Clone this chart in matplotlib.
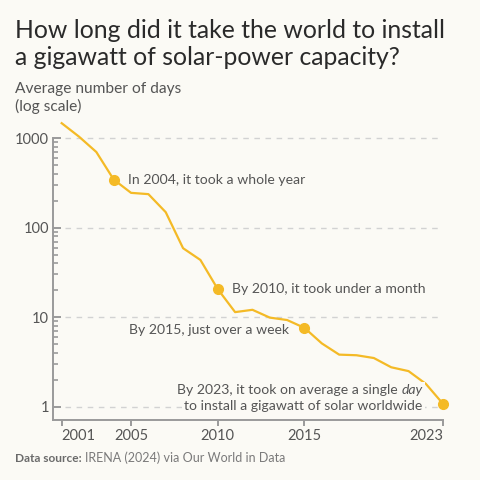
import numpy as np
import matplotlib
matplotlib.use('Agg')
import matplotlib.pyplot as plt

plt.rcParams['font.family'] = ['Lato', 'DejaVu Sans']

# ------------------------------
# Data
# ------------------------------
years = [2001, 2002, 2003, 2004, 2005, 2006, 2007, 2008, 2009, 2010, 2011, 2012,
         2013, 2014, 2015, 2016, 2017, 2018, 2019, 2020, 2021, 2022, 2023]
days = [1470, 1040, 700, 345, 245, 237, 149, 59, 43.6, 20.6, 11.4, 12.1,
        9.9, 9.3, 7.6, 5.1, 3.82, 3.76, 3.5, 2.76, 2.5, 1.8, 1.07]

highlight_years = [2004, 2010, 2015, 2023]
xtick_years = [2001, 2005, 2010, 2015, 2023]
ytick_vals = [1, 10, 100, 1000]

bg = '#fbfaf5'
gold = '#f4ba26'
txt = '#555555'
axis_col = '#9a9a9a'

fig = plt.figure(figsize=(4.8, 4.8), dpi=100, facecolor=bg)
ax = fig.add_axes([0.1104, 0.125, 0.813, 0.620], facecolor=bg)

ax.set_yscale('log')
ax.set_xlim(2000.5, 2023)
ax.set_ylim(0.711, 1500)

# dashed gridlines, starting just right of the axis
for v in ytick_vals:
    ax.axhline(v, xmin=0.03, xmax=1.0, color='#d2d2d2', lw=1.0,
               dashes=(4, 4), zorder=1)

ax.plot(years, days, color=gold, lw=1.6, zorder=3, clip_on=False)
hl_days = [days[years.index(y)] for y in highlight_years]
ax.plot(highlight_years, hl_days, 'o', color=gold, ms=7, zorder=4, clip_on=False)

# spines / ticks
for s in ['top', 'right']:
    ax.spines[s].set_visible(False)
for s in ['left', 'bottom']:
    ax.spines[s].set_color(axis_col)
    ax.spines[s].set_linewidth(1.4)
ax.spines['left'].set_bounds(0.711, 1000)

ax.set_yticks(ytick_vals)
ax.set_yticklabels([str(v) for v in ytick_vals])
minor = [m * 10 ** e for e in range(0, 3) for m in range(2, 10)]
ax.set_yticks(minor, minor=True)
ax.yaxis.set_minor_formatter(matplotlib.ticker.NullFormatter())
ax.tick_params(axis='y', which='major', direction='in', length=5.5, width=1.4,
               color=axis_col, labelsize=10.5, labelcolor=txt, pad=3)
ax.tick_params(axis='y', which='minor', direction='in', length=3.5, width=1.2,
               color=axis_col)

ax.set_xticks(xtick_years)
ax.set_xticklabels([str(y) for y in xtick_years])
ax.tick_params(axis='x', direction='out', length=4.5, width=1.4, color=axis_col,
               labelsize=10.5, labelcolor=txt, pad=2)
xlabels = ax.get_xticklabels()
xlabels[0].set_horizontalalignment('left')
xlabels[-1].set_horizontalalignment('right')

# ------------------------------
# Annotations
# ------------------------------
fs = 10.1
ax.annotate('In 2004, it took a whole year', xy=(2004, hl_days[0]),
            xytext=(10, 0), textcoords='offset points', ha='left', va='center',
            fontsize=fs, color=txt)
ax.annotate('By 2010, it took under a month', xy=(2010, hl_days[1]),
            xytext=(10, 0), textcoords='offset points', ha='left', va='center',
            fontsize=fs, color=txt)
ax.annotate('By 2015, just over a week', xy=(2015, hl_days[2]),
            xytext=(-11, -1.5), textcoords='offset points', ha='right', va='center',
            fontsize=fs, color=txt)

box = dict(facecolor=bg, edgecolor='none', pad=1.5)
day_txt = ax.annotate('day', xy=(2023, hl_days[3]), xytext=(-15, 9.8),
                      textcoords='offset points', ha='right', va='center',
                      fontsize=fs, color=txt, fontstyle='italic', bbox=box)
ax.annotate('By 2023, it took on average a single', xy=(0, 0.5), xycoords=day_txt,
            xytext=(-2.5, 0), textcoords='offset points', ha='right', va='center',
            fontsize=fs, color=txt, bbox=box)
ax.annotate('to install a gigawatt of solar worldwide', xy=(2023, hl_days[3]),
            xytext=(-15, -1.7), textcoords='offset points', ha='right', va='center',
            fontsize=fs, color=txt, bbox=box)

# ------------------------------
# Titles and source
# ------------------------------
fig.text(0.031, 1 - 37.5 / 480, 'How long did it take the world to install',
         fontsize=17.8, color='#2a2a2a', ha='left', va='baseline')
fig.text(0.031, 1 - 65 / 480, 'a gigawatt of solar-power capacity?',
         fontsize=17.8, color='#2a2a2a', ha='left', va='baseline')
fig.text(0.031, 1 - 92.7 / 480, 'Average number of days',
         fontsize=11.2, color=txt, ha='left', va='baseline')
fig.text(0.031, 1 - 111 / 480, '(log scale)',
         fontsize=11.2, color=txt, ha='left', va='baseline')

src = fig.text(0.031, 1 - 462 / 480, 'Data source:', fontsize=8.6, color='#6a6a6a',
               fontweight='bold', ha='left', va='baseline')
fig.canvas.draw()
bb = src.get_window_extent()
fig.text((bb.x1 + 3) / 480, 1 - 462 / 480, 'IRENA (2024) via Our World in Data',
         fontsize=9.0, color='#7a7a7a', ha='left', va='baseline')

plt.savefig('out.png', dpi=100, facecolor=bg)
